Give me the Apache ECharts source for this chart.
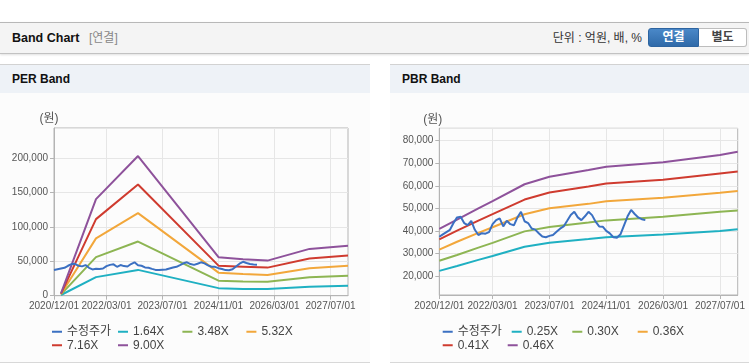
<!DOCTYPE html>
<html>
<head>
<meta charset="utf-8">
<script src="https://cdn.jsdelivr.net/npm/echarts@6/dist/echarts.min.js"></script>
<style>
  body { margin:0; background:#fff; width:749px; height:364px; overflow:hidden; position:relative;
         font-family: Arial, 'Liberation Sans', 'Noto Sans CJK KR', sans-serif; }
  .topbar { position:absolute; left:0; top:22px; width:749px; height:30px; background:#f4f4f4;
            border-top:1px solid #b8b8b8; border-bottom:1px solid #c2c2c2; box-shadow:0 1px 2px rgba(0,0,0,.12); }
  .topbar .ttl { position:absolute; left:12px; top:0; line-height:30px; font-size:12.5px; font-weight:bold; color:#111; }
  .topbar .sub { position:absolute; left:89px; top:0; line-height:30px; font-size:12px; color:#888; }
  .topbar .unit { position:absolute; right:107px; top:0; line-height:31px; font-size:12px; color:#333; }
  .btn { position:absolute; top:5px; height:17px; line-height:17px; font-size:12px; font-weight:bold; text-align:center; box-sizing:content-box; }
  .btn.on { left:648px; background:linear-gradient(#4a88c8,#2f6aa9); color:#fff; border:1px solid #2d64a0; border-radius:3px 0 0 3px; width:49px; }
  .btn.off { left:699px; width:47px; background:#fff; color:#444; border:1px solid #bdbdbd; border-left:none; border-radius:0 3px 3px 0; }
  .panel { position:absolute; top:64px; height:297px; background:#fcfcfc; border-top:1px solid #d2d2d2; border-bottom:1px solid #d8d8d8; }
  .panel .hd { height:28px; line-height:29px; background:#eef2f7; padding-left:12px; font-size:12px; font-weight:bold; color:#111; }
  .chart { position:absolute; top:93px; height:269px; }
</style>
</head>
<body>
<div class="topbar">
  <span class="ttl">Band Chart</span><span class="sub">[연결]</span>
  <span class="unit">단위 : 억원, 배, %</span>
  <div class="btn on">연결</div><div class="btn off">별도</div>
</div>
<div class="panel" style="left:0;width:370px;"><div class="hd">PER Band</div></div>
<div class="panel" style="left:390px;width:359px;"><div class="hd">PBR Band</div></div>
<div id="per" class="chart" style="left:0;width:370px;"></div>
<div id="pbr" class="chart" style="left:390px;width:359px;"></div>
<script>
// ---------- data ----------
const months = [];
for (let i = 0; i < 85; i++) {
  const y = 2020 + Math.floor((11 + i) / 12);
  const mo = (11 + i) % 12 + 1;
  months.push(y + '/' + String(mo).padStart(2, '0') + '/01');
}
const xTickLabels = ['2020/12/01', '2022/03/01', '2023/07/01', '2024/11/01', '2026/03/01', '2027/07/01'];

// 수정주가 (monthly, 2020/12 ~ 2025/10)
const priceValues = [
  37400, 38500, 39500, 40500, 43500, 46000, 46300, 43500, 42600, 44500,
  40500, 38200, 39000, 38800, 39500, 43000, 44800, 45600, 42000, 44500,
  43000, 42500, 46000, 48500, 44300, 43500, 41100, 40600, 39000, 37500,
  37200, 37800, 38200, 39600, 41000, 42000, 44500, 47100, 48500, 46000,
  44800, 46500, 48500, 47000, 44100, 42000, 41900, 40000, 38900, 37200,
  37000, 38500, 42500, 46500, 49300, 47500, 46000, 45200, 44800
];

// PER band
const perNames = ['1.64X', '3.48X', '5.32X', '7.16X', '9.00X'];
const perDates = ['2021/02/01', '2021/12/01', '2022/12/01', '2024/11/01', '2025/06/01', '2026/01/01', '2027/01/01', '2027/12/01'];
const per164 = [1000, 27000, 37500, 11000, 9800, 9700, 13000, 14400];
const per348 = [2000, 56000, 78700, 21900, 20700, 20400, 26800, 29100];
const per532 = [2500, 83300, 120000, 33500, 31500, 30200, 40000, 43700];
const per716 = [3000, 111300, 161500, 43700, 42200, 40800, 54000, 58300];
const per900 = [3500, 140400, 203000, 55900, 53000, 51000, 68000, 72700];

// PBR band
const pbrNames = ['0.25X', '0.30X', '0.36X', '0.41X', '0.46X'];
const pbrDates = ['2020/12/01', '2021/05/01', '2021/11/01', '2022/03/01', '2022/12/01', '2023/07/01', '2024/06/01', '2024/11/01', '2026/03/01', '2027/07/01', '2027/12/01'];
const pbr025 = [22300, 24450, 27180, 28910, 33000, 34780, 36410, 37230, 38400, 39950, 40800];
const pbr030 = [26800, 29350, 32610, 34700, 39800, 41740, 43700, 44680, 46300, 48500, 49100];
const pbr036 = [31700, 35200, 39130, 41640, 47400, 50090, 52000, 53200, 54700, 56950, 57700];
const pbr041 = [36300, 40100, 44570, 47420, 53900, 57040, 59700, 61050, 62650, 65500, 66300];
const pbr046 = [40900, 45000, 50000, 53200, 60700, 64000, 67000, 68500, 70400, 73700, 75100];

const priceName = '수정주가';
const colors = ['#3b70c2', '#1fb0c2', '#8db553', '#f2a73b', '#cf3b2f', '#8e529b'];
const FONT = "Arial, 'Liberation Sans', 'Noto Sans CJK KR', sans-serif";

function zip(dates, vals) { return dates.map((d, i) => [d, vals[i]]); }

function build(cfg) {
  const tickFn = (idx, val) => xTickLabels.indexOf(val) >= 0;
  const series = [{
    name: priceName, type: 'line', symbol: 'none', z: 3,
    lineStyle: { width: 2, color: colors[0] }, itemStyle: { color: colors[0] },
    data: priceValues.map((v, i) => [months[i], v])
  }];
  cfg.bands.forEach((b, k) => {
    series.push({
      name: cfg.names[k], type: 'line', symbol: 'none', z: 2,
      lineStyle: { width: 2, color: colors[k + 1] }, itemStyle: { color: colors[k + 1] },
      data: zip(cfg.dates, b)
    });
  });
  const legendNames = [priceName].concat(cfg.names);
  return {
    animation: false,
    textStyle: { fontFamily: FONT },
    grid: Object.assign({ show: true, borderColor: '#b4b4b4', borderWidth: 1, backgroundColor: 'transparent' }, cfg.grid),
    legend: {
      left: cfg.legendLeft, top: 232, width: 262, padding: 0, itemGap: 0,
      icon: 'rect', itemWidth: 10, itemHeight: 2,
      textStyle: { fontSize: 12, color: '#444', fontFamily: FONT, lineHeight: 13.5 },
      data: legendNames.map((n, i) => ({ name: n, textStyle: { width: cfg.legendWidths[i] } }))
    },
    xAxis: {
      type: 'category', data: months, boundaryGap: false,
      axisLine: { lineStyle: { color: '#b4b4b4' } },
      axisTick: { show: true, interval: tickFn, length: 4, lineStyle: { color: '#b4b4b4' } },
      axisLabel: { interval: tickFn, color: '#555', fontSize: 10, margin: 6, fontFamily: FONT },
      splitLine: { show: true, interval: tickFn, lineStyle: { color: '#e6e6e6' } }
    },
    yAxis: Object.assign({
      type: 'value', name: '(원)', nameLocation: 'end', nameGap: 3,
      nameTextStyle: { color: '#555', fontSize: 12, fontFamily: FONT, padding: [0, cfg.namePad, 0, 0] },
      axisLine: { show: true, lineStyle: { color: '#b4b4b4' } },
      axisTick: { show: true, length: 4, lineStyle: { color: '#b4b4b4' } },
      axisLabel: { color: '#555', fontSize: 10, margin: 6, fontFamily: FONT, showMaxLabel: false, showMinLabel: cfg.showMin,
                   formatter: v => Number(v).toLocaleString('en-US') },
      splitLine: { show: true, lineStyle: { color: '#e6e6e6' } }
    }, cfg.yAxis),
    series: series
  };
}

const perChart = echarts.init(document.getElementById('per'), null, { renderer: 'canvas' });
perChart.setOption(build({
  names: perNames, dates: perDates, bands: [per164, per348, per532, per716, per900],
  grid: { left: 54, top: 35, width: 294, height: 167.7 },
  yAxis: { min: 0, max: 243700, interval: 50000 },
  showMin: true, namePad: 10,
  legendLeft: 52, legendWidths: [51, 49.4, 49, 49, 51, 49]
}));

const pbrChart = echarts.init(document.getElementById('pbr'), null, { renderer: 'canvas' });
pbrChart.setOption(build({
  names: pbrNames, dates: pbrDates, bands: [pbr025, pbr030, pbr036, pbr041, pbr046],
  grid: { left: 49.3, top: 35.3, width: 298.4, height: 166.7 },
  yAxis: { min: 11600, max: 85500, splitNumber: 7 },
  showMin: false, namePad: 13,
  legendLeft: 52.7, legendWidths: [54, 45.6, 50.4, 49, 50, 49]
}));
</script>
</body>
</html>
